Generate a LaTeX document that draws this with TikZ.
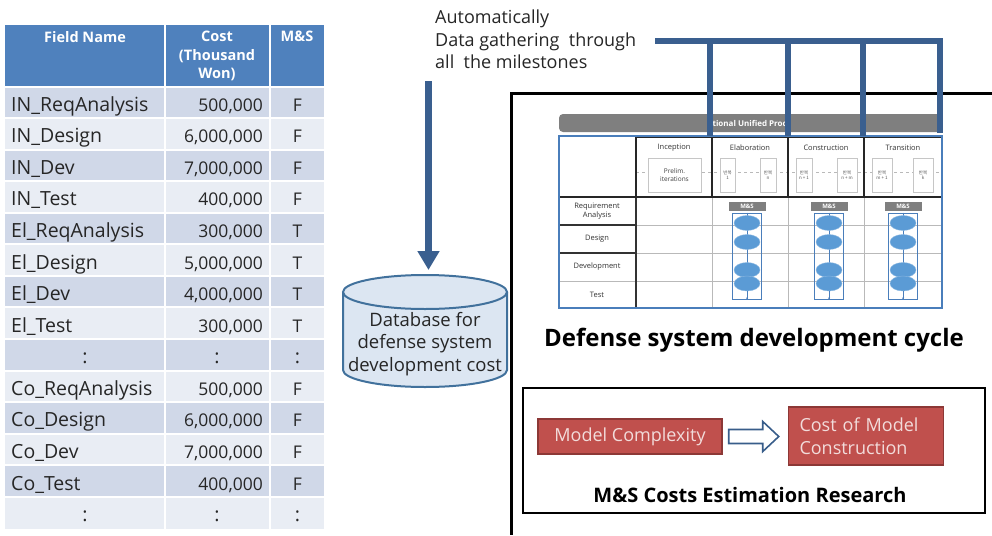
\documentclass[tikz,border=0pt]{standalone}
\usepackage{fontspec}
\setmainfont{Open Sans}
\newfontfamily\korfont{Noto Sans CJK KR}
\usetikzlibrary{arrows.meta,calc,shapes.geometric}
\definecolor{hdr}{HTML}{4F81BD}
\definecolor{rowA}{HTML}{D0D8E8}
\definecolor{rowB}{HTML}{E9EDF4}
\definecolor{linkblue}{HTML}{3A5F8F}
\definecolor{dbfill}{HTML}{DCE6F2}
\definecolor{dbline}{HTML}{41719C}
\definecolor{redfill}{HTML}{C0504D}
\definecolor{redline}{HTML}{8C3836}
\definecolor{redtext}{HTML}{F2DCDB}
\definecolor{arrowline}{HTML}{385D8A}
\definecolor{rupgray}{HTML}{7F7F7F}
\definecolor{ellblue}{HTML}{5B9BD5}
\definecolor{tabline}{HTML}{4A7EBB}
\begin{document}
\begin{tikzpicture}[x=1pt,y=-1pt,
  celltext/.style={font=\fontsize{19.5}{22}\selectfont, inner sep=0, text=black!85},
  numtext/.style={font=\fontsize{17.5}{22}\selectfont, inner sep=0, text=black!85},
  hdrtext/.style={font=\fontsize{14.5}{18.5}\selectfont\bfseries, text=white, align=center, inner sep=0},
  smalltext/.style={font=\fontsize{7.5}{9}\selectfont, inner sep=0, align=center, text=black!80},
  kbox/.style={draw=gray!45, fill=white, line width=0.6, minimum height=34, inner sep=0, align=center,
     font=\korfont\fontsize{4.5}{5.5}\selectfont, text=gray!70!black},
  ell/.style={ellipse, fill=ellblue, draw=ellblue!70!white, line width=0.4, minimum width=26, minimum height=15, inner sep=0},
  redbox/.style={fill=redfill, draw=redline, line width=1.5, text=redtext, font=\fontsize{18}{23}\selectfont, inner sep=0},
  bracket/.style={linkblue, line width=6},
]
\useasboundingbox (0,0) rectangle (992,535);
\fill[white] (0,0) rectangle (992,535);

% ---------------- table ----------------
\fill[hdr] (5,25) rectangle (324,86);
\foreach \i in {1,3,...,13} \fill[rowA] (5,{87+(\i-1)*31.57}) rectangle (324,{87+\i*31.57});
\foreach \i in {2,4,...,14} \fill[rowB] (5,{87+(\i-1)*31.57}) rectangle (324,{87+\i*31.57});
\foreach \i in {0,...,13} \draw[white, line width=2] (5,{86.5+\i*31.57}) -- (324,{86.5+\i*31.57});
\draw[white, line width=2] (164.5,25) -- (164.5,530) (270,25) -- (270,530);

\node[hdrtext, anchor=north] (hfield) at (85,31) {Field Name};
\node[hdrtext, anchor=north] (hcost) at (217,31) {Cost\\(Thousand\\Won)};
\node[hdrtext, anchor=north] (hms) at (297,31) {M\&S};

\foreach \i/\n/\c/\m in {1/IN\_ReqAnalysis/{500,000}/F, 2/IN\_Design/{6,000,000}/F, 3/IN\_Dev/{7,000,000}/F,
   4/IN\_Test/{400,000}/F, 5/El\_ReqAnalysis/{300,000}/T, 6/El\_Design/{5,000,000}/T, 7/El\_Dev/{4,000,000}/T,
   8/El\_Test/{300,000}/T, 10/Co\_ReqAnalysis/{500,000}/F, 11/Co\_Design/{6,000,000}/F, 12/Co\_Dev/{7,000,000}/F,
   13/Co\_Test/{400,000}/F} {
  \node[celltext, anchor=base west] (fn\i) at (11,{87+(\i-0.5)*31.57+8.5}) {\n};
  \node[numtext, anchor=base east] (cost\i) at (263,{87+(\i-0.5)*31.57+8.5}) {\c};
  \node[numtext, anchor=base] (ms\i) at (297.5,{87+(\i-0.5)*31.57+8.5}) {\m};
}
\foreach \i in {9,14} {
  \node[celltext, anchor=base] (fn\i) at (85,{87+(\i-0.5)*31.57+8.5}) {:};
  \node[celltext, anchor=base] (cost\i) at (217,{87+(\i-0.5)*31.57+8.5}) {:};
  \node[celltext, anchor=base] (ms\i) at (297.5,{87+(\i-0.5)*31.57+8.5}) {:};
}

% ---------------- gathering text and database ----------------
\node[font=\fontsize{18}{22.5}\selectfont, align=left, anchor=north west, inner sep=0, text=black!85] (gtext) at (435,10)
  {Automatically\\Data gathering\ \ through\\all\ \ the milestones};

\fill[dbfill] (343,292) rectangle (507,370);
\fill[dbfill] (425,370) ellipse [x radius=82, y radius=17];
\draw[dbline, line width=2] (343,292) -- (343,370) arc[start angle=180, end angle=0, x radius=82, y radius=17] -- (507,292);
\filldraw[fill=dbfill, draw=dbline, line width=2] (425,292) ellipse [x radius=82, y radius=17];
\node[font=\fontsize{18.5}{22.5}\selectfont, align=center, inner sep=0, text=black!85] (db) at (425,344)
  {Database for\\defense system\\development cost};

\coordinate (gstart) at (428.5,81);
\coordinate (dbtop) at (428.5,270);
\draw[linkblue, line width=7, -{Triangle[width=21pt,length=19pt]}] (gstart) -- (dbtop);

% ---------------- right frame ----------------
\draw[black, line width=3] (992,93) -- (511,93) -- (511,535);

% ---------------- RUP figure ----------------
\node[fill=rupgray, rounded corners=4, minimum width=383, minimum height=18, inner sep=0] (rupbar) at (750.5,123) {};
\node[text=white, font=\fontsize{8}{8}\selectfont\bfseries, inner sep=0] (ruptext) at (752,123) {tional Unified Proce};

% grid
\draw[gray!55, line width=0.7] (559,225) -- (942,225) (559,253) -- (942,253) (559,281) -- (942,281);
\foreach \x in {636,712,788,864} \draw[gray!55, line width=0.7] (\x,197) -- (\x,308);
\draw[black!80, line width=1.2] (559,225) -- (636,225) (559,253) -- (636,253) (636,197) -- (636,308);
\draw[gray!55, dashed, line width=0.6] (636,172) -- (942,172);
\draw[black!85, line width=1.5] (636,137) -- (942,137) (559,197) -- (942,197);
\foreach \x in {636,712,788,864} \draw[black!85, line width=1.5] (\x,137) -- (\x,197);
\draw[tabline, line width=2] (559,136) rectangle (942,308);

\node[smalltext] (pinc) at (674,148) {Inception};
\node[smalltext] (pela) at (750,148) {Elaboration};
\node[smalltext] (pcon) at (826,148) {Construction};
\node[smalltext] (ptra) at (903,148) {Transition};
\node[kbox, minimum width=53, font=\fontsize{6.5}{8}\selectfont, text=black!75] (prelim) at (674.5,175) {Prelim.\\iterations};
\foreach \nm/\cx/\w/\t in {k1/727.5/15/{1}, k2/768/16/{n}, k3/804/16/{n + 1}, k4/847/20/{n + m}, k5/882/20/{m + 1}, k6/923/20/{k}}
  \node[kbox, minimum width=\w] (\nm) at (\cx,175) {반복\\\t};

\node[smalltext] (rreq) at (597,211) {Requirement\\Analysis};
\node[smalltext] (rdes) at (597,239) {Design};
\node[smalltext] (rdev) at (597,267) {Development};
\node[smalltext] (rtest) at (597,295) {Test};

\foreach \cx [count=\j] in {747,829,903} {
  \node[draw=tabline, line width=0.9, minimum width=29, minimum height=86, inner sep=0] (msr\j) at (\cx,256) {};
  \draw[tabline, line width=0.4] (msr\j.north) -- (msr\j.south);
  \node[fill=rupgray, minimum width=37, minimum height=9, inner sep=0, text=white,
        font=\bfseries\fontsize{6}{6}\selectfont] (msl\j) at (\cx,206.5) {M\&S};
  \node[ell] (ea\j) at (\cx,223) {};
  \node[ell] (eb\j) at (\cx,242) {};
  \node[ell] (ec\j) at (\cx,270) {};
  \node[ell] (ed\j) at (\cx,283.5) {};
  \draw[tabline, line width=0.4, -{Stealth[length=2pt,width=2pt]}] (ed\j.south) -- (msr\j.south);
}

% ---------------- blue bracket ----------------
\coordinate (bstart) at (655,41);
\coordinate (bend) at (940,41);
\coordinate (bfoot) at (940,133);
\draw[bracket] (bstart) -- (bend) -- (bfoot);
\foreach \x in {710,788,863} \draw[bracket] (\x,41) -- (\x,136);

\node[font=\fontsize{24}{24}\selectfont\bfseries, inner sep=0] (cap1) at (754,340) {Defense system development cycle};

% ---------------- bottom box ----------------
\draw[black, line width=2] (523,388) rectangle (985,513);
\node[redbox, minimum width=184, minimum height=35] (mc) at (630,436.5) {Model Complexity};
\node[redbox, text width=133pt, inner xsep=11pt, align=left, minimum height=58] (cmc) at (866,436) {Cost of Model\\Construction};
\draw[arrowline, fill=white, line width=1.6, line join=miter]
  ($(mc.east)+(6,-7)$) -- ++(34,0) -- ++(0,-8) -- ++(16,15) -- ++(-16,15) -- ++(0,-8) -- ++(-34,0) -- cycle;
\node[font=\fontsize{20}{20}\selectfont\bfseries, inner sep=0] (cap2) at (750,495) {M\&S Costs Estimation Research};
\end{tikzpicture}
\end{document}
